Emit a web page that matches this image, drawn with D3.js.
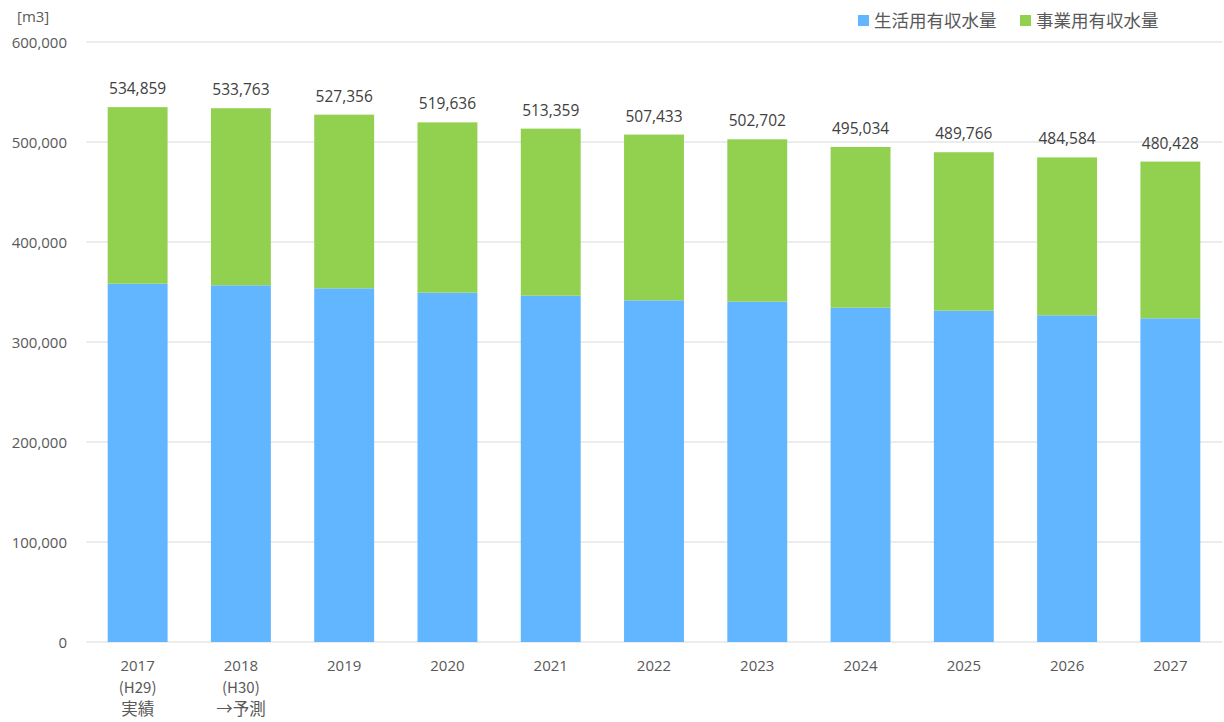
<!DOCTYPE html>
<html><head><meta charset="utf-8">
<script src="https://cdn.jsdelivr.net/npm/d3@7"></script>
<style>body{margin:0;background:#fff;} text{font-family:"Open Sans","Noto Sans CJK JP",sans-serif;}</style>
</head><body><svg id="c" width="1224" height="722"></svg>
<script>
const categories = ["2017","2018","2019","2020","2021","2022","2023","2024","2025","2026","2027"];
const subLabels = [["(H29)","実績"],["(H30)","→予測"],[],[],[],[],[],[],[],[],[]];
const totals = [534859,533763,527356,519636,513359,507433,502702,495034,489766,484584,480428];
const residential = [358300,356700,353700,349300,346300,341700,340300,334300,331300,326700,323700];
const business = totals.map((t,i)=>t-residential[i]);
const yTicks = [0,100000,200000,300000,400000,500000,600000];
const seriesNames = ["生活用有収水量","事業用有収水量"];
const colors = ["#62B5FF","#92D050"];

const svg = d3.select("#c");
const m = {l:86, r:1222, t:42, b:642};
const x = d3.scaleBand().domain(categories).range([m.l,m.r]).paddingInner(0.42).paddingOuter(0.21);
const y = d3.scaleLinear().domain([0,600000]).range([m.b,m.t]);
const fmt = d3.format(",");
const cjk = '"Noto Sans CJK JP","Open Sans",sans-serif';

// gridlines
svg.append("g").selectAll("line").data(yTicks).join("line")
  .attr("x1",m.l).attr("x2",m.r).attr("y1",d=>y(d)).attr("y2",d=>y(d))
  .attr("stroke","#d9d9d9").attr("stroke-width",1);

// y axis labels
const yAxis = d3.axisLeft(y).tickValues(yTicks).tickFormat(fmt).tickSize(0).tickPadding(0);
const ga = svg.append("g").attr("transform","translate(67,0)").call(yAxis);
ga.select(".domain").remove();
ga.selectAll("text").attr("fill","#595959").style("font-size","15px").attr("dy","0.35em");

svg.append("text").attr("x",17).attr("y",22).attr("fill","#595959").style("font-size","15px").text("[m3]");

// bars
const stackData = categories.map((c,i)=>({cat:c, r:residential[i], b:business[i]}));
const stack = d3.stack().keys(["r","b"])(stackData);
svg.append("g").selectAll("g").data(stack).join("g").attr("fill",(d,i)=>colors[i])
  .selectAll("rect").data(d=>d).join("rect")
  .attr("x",d=>x(d.data.cat)).attr("width",x.bandwidth())
  .attr("y",d=>y(d[1])).attr("height",d=>y(d[0])-y(d[1]));

// value labels
svg.append("g").selectAll("text").data(categories).join("text")
  .attr("x",d=>x(d)+x.bandwidth()/2).attr("y",(d,i)=>y(totals[i])-13)
  .attr("text-anchor","middle").attr("fill","#404040").style("font-size","15.5px")
  .text((d,i)=>fmt(totals[i]));

// x labels
const xl = svg.append("g").selectAll("text").data(categories).join("text")
  .attr("x",d=>x(d)+x.bandwidth()/2).attr("y",671)
  .attr("text-anchor","middle").attr("fill","#595959").style("font-size","15px");
xl.each(function(d,i){
  const t = d3.select(this);
  t.append("tspan").attr("x",x(d)+x.bandwidth()/2).text(d);
  subLabels[i].forEach((s,j)=>{
    t.append("tspan").attr("x",x(d)+x.bandwidth()/2).attr("dy",22).style("font-family",cjk)
      .style("font-size", j===1 ? "16.5px" : "15px").text(s);
  });
});

// legend
const lg = svg.append("g");
const lx = [858,1020];
seriesNames.forEach((n,i)=>{
  lg.append("rect").attr("x",lx[i]).attr("y",15).attr("width",11).attr("height",11).attr("fill",colors[i]);
  lg.append("text").attr("x",lx[i]+16).attr("y",27).attr("fill","#595959").style("font-size","17.5px").style("font-family",cjk).text(n);
});
</script></body></html>
